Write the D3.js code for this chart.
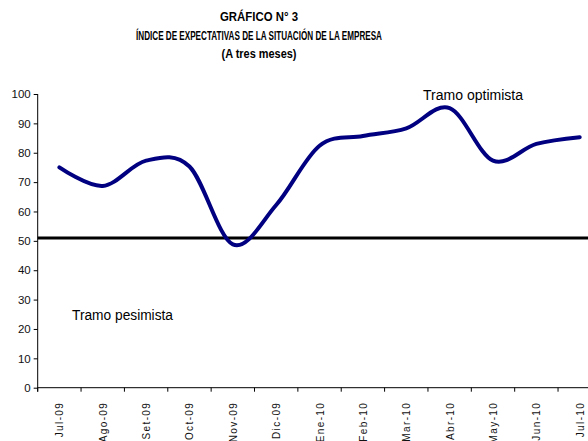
<!DOCTYPE html>
<html>
<head>
<meta charset="utf-8">
<script src="https://cdn.jsdelivr.net/npm/d3@7"></script>
<style>
  body { margin: 0; background: #fff; }
  svg { display: block; }
</style>
</head>
<body>
<svg id="chart" width="588" height="441"></svg>
<script>
// Data
const months = ["Jul-09", "Ago-09", "Set-09", "Oct-09", "Nov-09", "Dic-09", "Ene-10",
  "Feb-10", "Mar-10", "Abr-10", "May-10", "Jun-10", "Jul-10"];
const indexValues = [75.0, 68.7, 77.3, 75.3, 48.8, 62.2, 82.4, 85.7, 88.3, 95.2, 77.3, 83.0, 85.3];
const neutralLevel = 51;
const yTicks = [0, 10, 20, 30, 40, 50, 60, 70, 80, 90, 100];
const titleLines = ["GRÁFICO N° 3", "ÍNDICE DE EXPECTATIVAS DE LA SITUACIÓN DE LA EMPRESA", "(A tres meses)"];

const svg = d3.select("#chart");
const W = 588, H = 441;
const plotLeft = 37.7, plotTop = 94, plotBottom = 387.7;

const x = d3.scaleBand().domain(months).range([plotLeft, 601.4]);
const y = d3.scaleLinear().domain([0, 100]).range([plotBottom, plotTop]);

// titles (narrow bold in the original, so squeeze to measured widths)
const titleWidths = [78, 246, 75];
const titleY = [21, 40, 58];
titleLines.forEach((t, i) => {
  svg.append("text")
    .attr("x", 259).attr("y", titleY[i])
    .attr("text-anchor", "middle")
    .attr("font-family", "Liberation Sans, Arial, sans-serif")
    .attr("font-weight", "bold")
    .attr("font-size", 12.5)
    .attr("textLength", titleWidths[i])
    .attr("lengthAdjust", "spacingAndGlyphs")
    .attr("fill", "#000")
    .text(t);
});

// y axis
const yAxis = svg.append("g")
  .attr("transform", `translate(${plotLeft},0)`)
  .call(d3.axisLeft(y).tickValues(yTicks).tickSize(4).tickPadding(3));
yAxis.select(".domain").attr("stroke", "#000").attr("d", `M0,${plotTop}V${plotBottom + 4}`);
yAxis.selectAll(".tick line").attr("stroke", "#000");
yAxis.selectAll(".tick text")
  .attr("font-family", "Liberation Sans, Arial, sans-serif")
  .attr("font-size", 11.5)
  .attr("fill", "#111");

// x axis
const xAxis = svg.append("g").attr("transform", `translate(0,${plotBottom})`);
xAxis.append("line")
  .attr("x1", plotLeft).attr("x2", W)
  .attr("stroke", "#000");
xAxis.selectAll("line.tk")
  .data(months)
  .join("line")
  .attr("class", "tk")
  .attr("x1", d => x(d)).attr("x2", d => x(d))
  .attr("y1", 0).attr("y2", 4)
  .attr("stroke", "#000");
xAxis.selectAll("text")
  .data(months)
  .join("text")
  .attr("transform", d => `translate(${x(d) + x.bandwidth() / 2 + 4},14) rotate(-90)`)
  .attr("text-anchor", "end")
  .attr("font-family", "Liberation Sans, Arial, sans-serif")
  .attr("font-size", 10)
  .attr("letter-spacing", 1.4)
  .attr("fill", "#111")
  .text(d => d);

// neutral line
svg.append("line")
  .attr("x1", plotLeft).attr("x2", W)
  .attr("y1", y(neutralLevel)).attr("y2", y(neutralLevel))
  .attr("stroke", "#000")
  .attr("stroke-width", 3);

// smoothed series
const line = d3.line()
  .x((d, i) => x(months[i]) + x.bandwidth() / 2)
  .y(d => y(d))
  .curve(d3.curveCardinal.tension(0));
svg.append("path")
  .datum(indexValues)
  .attr("d", line)
  .attr("fill", "none")
  .attr("stroke", "#000080")
  .attr("stroke-width", 4)
  .attr("stroke-linecap", "round");

// annotations
svg.append("text")
  .attr("x", 72).attr("y", 320)
  .attr("font-family", "Liberation Sans, Arial, sans-serif")
  .attr("font-size", 15.5)
  .attr("textLength", 101)
  .attr("lengthAdjust", "spacingAndGlyphs")
  .attr("fill", "#000")
  .text("Tramo pesimista");
svg.append("text")
  .attr("x", 423).attr("y", 100)
  .attr("font-family", "Liberation Sans, Arial, sans-serif")
  .attr("font-size", 15.5)
  .attr("textLength", 100)
  .attr("lengthAdjust", "spacingAndGlyphs")
  .attr("fill", "#000")
  .text("Tramo optimista");
</script>
</body>
</html>
